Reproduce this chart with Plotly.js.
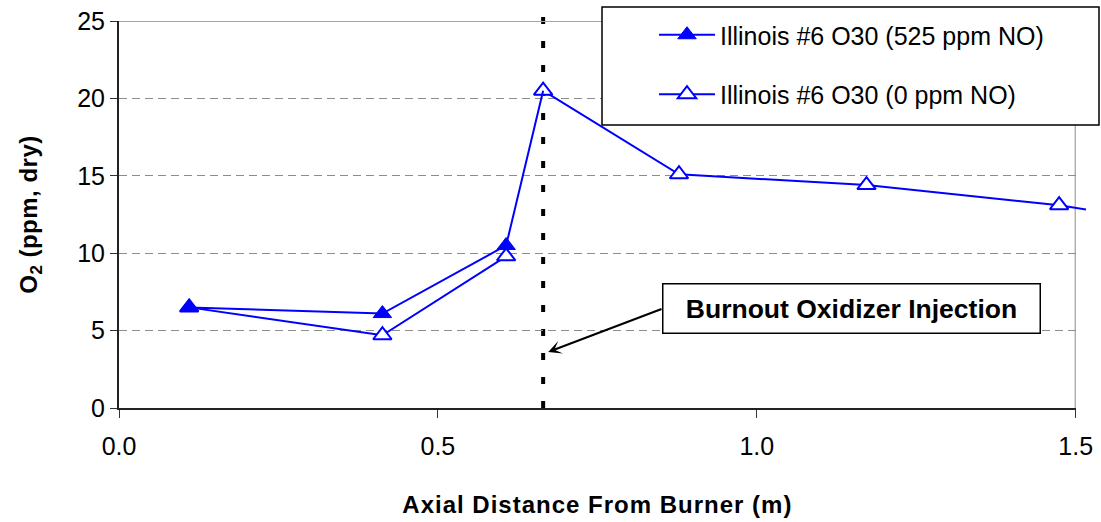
<!DOCTYPE html>
<html>
<head>
<meta charset="utf-8">
<script src="https://cdn.plot.ly/plotly-3.0.1.min.js"></script>
<style>
  html, body { margin: 0; padding: 0; background: #ffffff; }
  #chart { width: 1101px; height: 522px; }
  .xtitle { letter-spacing: 1px; }
  .ytitle { letter-spacing: 0.5px; }
</style>
</head>
<body>
<div id="chart"></div>
<script>
// ---- data ----
const seriesNames = ['Illinois #6 O30 (525 ppm NO)', 'Illinois #6 O30 (0 ppm NO)'];
const distWithNO = [0.110, 0.413, 0.607, 0.665];          // axial distance (m)
const o2WithNO = [6.5, 6.1, 10.5, 20.5];                    // O2, 525 ppm NO
const distNoNO = [0.110, 0.413, 0.607, null, 0.665, 0.878, 1.172, 1.474, 1.55];
const o2NoNO = [6.5, 4.7, 9.8, null, 20.5, 15.1, 14.4, 13.1, 12.6]; // O2, 0 ppm NO
const injectionDistance = 0.665;                             // burnout oxidizer injection (m)
const injectionLabel = 'Burnout Oxidizer Injection';
const xTickVals = [0, 0.5, 1.0, 1.5];
const xTickText = ['0.0', '0.5', '1.0', '1.5'];
const yTickVals = [0, 5, 10, 15, 20, 25];
const xTitle = 'Axial Distance From Burner (m)';
const yTitle = 'O<sub>2</sub> (ppm, dry)';

// ---- layout geometry ----
const W = 1101, H = 522;
const M = {l: 119, r: 15, t: 21, b: 114};
const plotW = W - M.l - M.r;
const xMax = 1.5;
const mainDomainEnd = (1075.7 - M.l) / plotW;   // visible frame ends at x = 1.5
const blue = '#0000ff';
const font = 'Liberation Sans, Arial, sans-serif';

const px2paperX = p => (p - M.l) / plotW;
const px2paperY = p => (H - M.b - p) / (H - M.t - M.b);

const traceNoNO = {
  x: distNoNO, y: o2NoNO, name: seriesNames[1],
  xaxis: 'x2', yaxis: 'y2',
  mode: 'lines+markers', connectgaps: false,
  line: {color: blue, width: 2},
  marker: {symbol: 'triangle-up', size: 16, color: '#ffffff', line: {color: blue, width: 2}},
  legendgroup: 'b', legendrank: 2, hoverinfo: 'x+y'
};
const traceWithNO = {
  x: distWithNO, y: o2WithNO, name: seriesNames[0],
  xaxis: 'x2', yaxis: 'y2',
  mode: 'lines+markers',
  line: {color: blue, width: 2},
  marker: {symbol: distWithNO.map((d, i) => i === distWithNO.length - 1 ? 'triangle-up-open' : 'triangle-up'),
           size: 16, color: blue, line: {color: blue, width: 1}},
  legendgroup: 'a', legendrank: 1, hoverinfo: 'x+y'
};

const layout = {
  width: W, height: H,
  margin: M,
  paper_bgcolor: '#ffffff', plot_bgcolor: 'rgba(0,0,0,0)',
  font: {family: font, size: 25, color: '#000000'},
  showlegend: true,
  legend: {
    x: px2paperX(654), y: px2paperY(12), xanchor: 'left', yanchor: 'top',
    bgcolor: 'rgba(0,0,0,0)', borderwidth: 0,
    font: {family: font, size: 25, color: '#000000'},
    tracegroupgap: 24, itemwidth: 56, traceorder: 'grouped'
  },
  xaxis: {
    domain: [0, mainDomainEnd], range: [0, xMax], autorange: false,
    tickmode: 'array', tickvals: xTickVals, ticktext: xTickText,
    ticks: 'outside', ticklen: 8, tickwidth: 1, tickcolor: '#333333',
    ticklabelstandoff: 7,
    showline: true, linecolor: '#222222', linewidth: 2,
    showgrid: false, zeroline: false,
    tickfont: {family: font, size: 25, color: '#000000'},
    title: {text: xTitle, standoff: 37, font: {family: font, size: 24, color: '#000000', weight: 'bold'}},
    fixedrange: true
  },
  yaxis: {
    range: [0, 25], autorange: false,
    tickmode: 'array', tickvals: yTickVals,
    ticks: 'outside', ticklen: 7, tickwidth: 1, tickcolor: '#333333',
    showline: true, linecolor: '#222222', linewidth: 2,
    showgrid: true, gridcolor: '#8c8c8c', gridwidth: 1, griddash: '8px,5px',
    zeroline: false,
    tickfont: {family: font, size: 25, color: '#000000'},
    title: {text: yTitle, standoff: 33, font: {family: font, size: 24, color: '#000000', weight: 'bold'}},
    fixedrange: true
  },
  xaxis2: {domain: [0, 1], range: [0, xMax / mainDomainEnd], autorange: false, anchor: 'y2', visible: false, fixedrange: true},
  yaxis2: {domain: [0, 1], range: [0, 25], autorange: false, anchor: 'x2', visible: false, fixedrange: true},
  shapes: [
    {type: 'line', xref: 'x', yref: 'y', x0: 0, x1: xMax, y0: 25, y1: 25, line: {color: '#a6a6a6', width: 2}, layer: 'below'},
    {type: 'line', xref: 'x', yref: 'y', x0: xMax, x1: xMax, y0: 0, y1: 25, line: {color: '#8c8c8c', width: 2}, layer: 'below'},
    {type: 'line', xref: 'x', yref: 'paper', x0: injectionDistance, x1: injectionDistance, y0: 0, y1: 1.013,
     line: {color: '#000000', width: 4, dash: '7px,17px'}, layer: 'below'},
    {type: 'rect', xref: 'paper', yref: 'paper', x0: px2paperX(602), x1: px2paperX(1099), y0: px2paperY(125), y1: px2paperY(7),
     fillcolor: '#ffffff', line: {color: '#000000', width: 1.5}, layer: 'above'}
  ],
  annotations: [
    {xref: 'x', yref: 'y', x: 1.148, y: 6.41, text: '<b>' + injectionLabel + '</b>', showarrow: false,
     xanchor: 'center', yanchor: 'middle', font: {family: font, size: 26.5, color: '#000000'},
     bgcolor: '#ffffff', bordercolor: '#000000', borderwidth: 1.5, borderpad: 2, width: 372, height: 44},
    {xref: 'x', yref: 'y', axref: 'x', ayref: 'y', x: 0.673, y: 3.62, ax: 0.853, ay: 6.43, text: '',
     showarrow: true, arrowhead: 3, arrowsize: 1.1, arrowwidth: 2, arrowcolor: '#000000', standoff: 0, startstandoff: 0}
  ]
};

Plotly.newPlot('chart', [traceNoNO, traceWithNO], layout, {displayModeBar: false, staticPlot: true});
</script>
</body>
</html>
